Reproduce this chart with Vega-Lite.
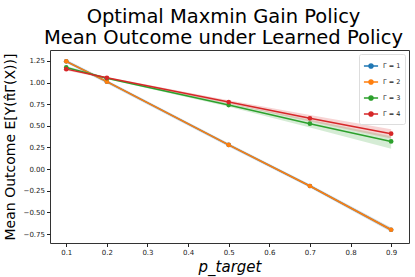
{
  "$schema": "https://vega.github.io/schema/vega-lite/v6.json",
  "autosize": {"type": "none"},
  "width": 359,
  "height": 193,
  "padding": {"left": 50, "top": 50, "right": 6, "bottom": 34},
  "background": "white",
  "title": {
    "text": ["Optimal Maxmin Gain Policy", "Mean Outcome under Learned Policy"],
    "font": "DejaVu Sans",
    "fontSize": 19.5,
    "fontWeight": "normal",
    "color": "black",
    "lineHeight": 21,
    "offset": 2,
    "dx": -6,
    "anchor": "middle"
  },
  "config": {
    "view": {"stroke": "#333", "strokeWidth": 1},
    "font": "DejaVu Sans",
    "axis": {
      "labelFont": "DejaVu Sans",
      "labelFontSize": 7,
      "labelColor": "#222",
      "labelOverlap": false,
      "tickColor": "#222",
      "tickSize": 3.5,
      "domain": false,
      "grid": false,
      "titleFont": "DejaVu Sans",
      "titleFontWeight": "normal",
      "titleColor": "black"
    }
  },
  "data": {
    "values": [
      {"p": 0.1, "g": "Γ = 1", "m": 1.245, "lo": 1.225, "hi": 1.265},
      {"p": 0.2, "g": "Γ = 1", "m": 1.01, "lo": 0.99, "hi": 1.03},
      {"p": 0.5, "g": "Γ = 1", "m": 0.28, "lo": 0.26, "hi": 0.30},
      {"p": 0.7, "g": "Γ = 1", "m": -0.195, "lo": -0.215, "hi": -0.175},
      {"p": 0.9, "g": "Γ = 1", "m": -0.70, "lo": -0.725, "hi": -0.675},
      {"p": 0.1, "g": "Γ = 2", "m": 1.245, "lo": 1.23, "hi": 1.26},
      {"p": 0.2, "g": "Γ = 2", "m": 1.01, "lo": 0.995, "hi": 1.025},
      {"p": 0.5, "g": "Γ = 2", "m": 0.28, "lo": 0.265, "hi": 0.295},
      {"p": 0.7, "g": "Γ = 2", "m": -0.195, "lo": -0.21, "hi": -0.18},
      {"p": 0.9, "g": "Γ = 2", "m": -0.70, "lo": -0.72, "hi": -0.68},
      {"p": 0.1, "g": "Γ = 3", "m": 1.175, "lo": 1.16, "hi": 1.19},
      {"p": 0.2, "g": "Γ = 3", "m": 1.05, "lo": 1.04, "hi": 1.06},
      {"p": 0.5, "g": "Γ = 3", "m": 0.74, "lo": 0.72, "hi": 0.76},
      {"p": 0.7, "g": "Γ = 3", "m": 0.525, "lo": 0.48, "hi": 0.57},
      {"p": 0.9, "g": "Γ = 3", "m": 0.32, "lo": 0.235, "hi": 0.38},
      {"p": 0.1, "g": "Γ = 4", "m": 1.155, "lo": 1.14, "hi": 1.17},
      {"p": 0.2, "g": "Γ = 4", "m": 1.055, "lo": 1.045, "hi": 1.065},
      {"p": 0.5, "g": "Γ = 4", "m": 0.775, "lo": 0.755, "hi": 0.795},
      {"p": 0.7, "g": "Γ = 4", "m": 0.587, "lo": 0.55, "hi": 0.625},
      {"p": 0.9, "g": "Γ = 4", "m": 0.41, "lo": 0.355, "hi": 0.46}
    ]
  },
  "encoding": {
    "x": {
      "field": "p", "type": "quantitative",
      "scale": {"domain": [0.06, 0.944], "nice": false, "zero": false},
      "axis": {"values": [0.1, 0.2, 0.3, 0.4, 0.5, 0.6, 0.7, 0.8, 0.9], "format": ".1f", "labelOverlap": false,
               "title": "p_target", "titleFontSize": 15, "titleFontStyle": "italic", "titlePadding": 4}
    },
    "y": {"field": "m", "type": "quantitative",
          "scale": {"domain": [-0.853, 1.376], "nice": false, "zero": false},
          "axis": {"values": [-0.75, -0.5, -0.25, 0, 0.25, 0.5, 0.75, 1, 1.25], "format": ".2f", "labelOverlap": false,
                   "title": "Mean Outcome E[Y(π̂Γ(X))]", "titleFontSize": 14, "titlePadding": 6}},
    "color": {
      "field": "g", "type": "nominal",
      "scale": {"domain": ["Γ = 1", "Γ = 2", "Γ = 3", "Γ = 4"], "range": ["#1f77b4", "#ff7f0e", "#2ca02c", "#d62728"]},
      "legend": {
        "title": null, "orient": "top-right", "offset": 4,
        "labelFontSize": 6.5, "labelFont": "DejaVu Sans", "labelColor": "#222",
        "symbolType": "M-1,0L-0.3,0M0.3,0L1,0M-0.3,0A0.3,0.3 0 1,0 0.3,0A0.3,0.3 0 1,0 -0.3,0Z",
        "symbolSize": 200, "symbolStrokeWidth": 1.5, "symbolOpacity": 1,
        "rowPadding": 2, "padding": 4,
        "strokeColor": "#ddd", "fillColor": "white", "cornerRadius": 2
      }
    }
  },
  "layer": [
    {
      "mark": {"type": "area", "opacity": 0.2},
      "encoding": {
        "y": {"field": "lo", "type": "quantitative"},
        "y2": {"field": "hi"}
      }
    },
    {
      "transform": [{"filter": "datum.g === 'Γ = 1'"}],
      "mark": {"type": "line", "strokeWidth": 1.5, "point": {"filled": true, "size": 22, "opacity": 1}},
      "encoding": {}
    },
    {
      "transform": [{"filter": "datum.g !== 'Γ = 1'"}],
      "mark": {"type": "line", "strokeWidth": 1.5, "point": {"filled": true, "size": 22, "opacity": 1}},
      "encoding": {}
    }
  ]
}
